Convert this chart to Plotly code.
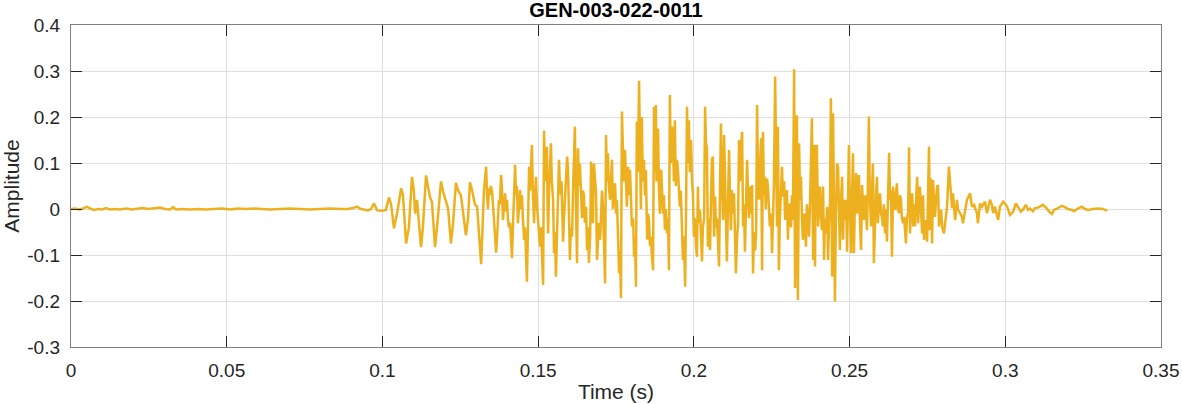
"""Waveform plot of one recording, MATLAB-like look."""

import plotly.graph_objects as go

LINE = "#EDB120"
TEXT = "#262626"
GRID = "#dfdfdf"
BOX = "#808080"
FONT = "Liberation Sans, Arial, sans-serif"

TITLE = "GEN-003-022-0011"

# (time in ms, amplitude), segment by segment
silence = [
    (0.0, 0.000), (1.3, 0.001), (2.6, -0.001), (3.9, 0.001), (5.1, 0.005), (6.1, 0.001),
    (7.4, -0.002), (8.7, 0.000), (10.0, -0.001), (11.2, 0.002), (12.5, -0.001), (14.1, 0.000),
    (15.7, -0.001), (17.7, 0.001), (19.6, -0.001), (21.5, 0.001), (23.1, 0.002), (24.7, 0.000),
    (26.7, 0.001), (28.6, 0.003), (30.2, 0.000), (31.8, -0.001), (32.8, 0.004), (33.7, -0.001),
    (35.6, 0.000), (38.2, -0.001), (40.8, 0.000), (43.3, -0.001), (45.9, 0.000), (48.5, 0.001),
    (51.1, -0.001), (53.6, 0.001), (56.2, 0.000), (58.8, 0.001), (61.3, 0.000), (63.9, -0.001),
    (67.1, 0.000), (70.3, 0.001), (73.5, 0.000), (76.7, -0.001), (80.0, 0.000), (83.2, 0.001),
    (86.4, 0.000), (88.9, 0.000), (90.6, 0.002), (91.8, 0.005), (93.1, 0.000), (94.1, -0.002),
    (95.4, -0.003), (96.3, 0.000), (97.3, 0.012), (98.3, -0.003), (99.9, -0.004), (101.1, -0.002),
    (102.1, 0.025), (102.8, 0.010),
]

onset = [
    (103.7, -0.042), (104.7, -0.010), (106.0, 0.045), (106.6, 0.030), (107.6, -0.075),
    (108.5, -0.040), (109.5, 0.070), (110.1, 0.040), (110.5, -0.010), (111.1, 0.020),
    (112.4, -0.083), (113.0, -0.040), (114.0, 0.073), (114.6, 0.050), (115.3, 0.025),
    (115.9, 0.015), (116.9, -0.083), (117.8, -0.020), (118.8, 0.060), (119.4, 0.040),
    (120.1, 0.025), (121.1, 0.000), (122.0, -0.075), (122.7, -0.030), (123.6, 0.057),
    (124.3, 0.040), (125.2, 0.030), (125.9, -0.010), (126.8, -0.057), (127.5, -0.020),
    (128.1, 0.058), (128.8, 0.040), (129.7, 0.010), (130.4, 0.005), (131.0, -0.060),
    (131.7, -0.120),
]

build = [
    (132.6, 0.040), (133.3, 0.092), (133.6, 0.030), (133.9, 0.000), (134.2, 0.045),
    (134.5, 0.030), (134.8, 0.050), (135.2, 0.038), (135.5, 0.010), (135.8, -0.030),
    (136.2, -0.060), (136.5, -0.095), (136.9, -0.050), (137.4, 0.020), (137.7, 0.010),
    (138.1, 0.074), (138.4, 0.040), (138.7, -0.024), (139.1, 0.010), (139.4, 0.034),
    (139.7, -0.005), (140.0, 0.020), (140.3, -0.020), (140.6, -0.040), (141.0, -0.030),
    (141.3, -0.080), (141.6, -0.107), (141.9, -0.040), (142.2, 0.040), (142.6, 0.096),
    (142.9, 0.030), (143.2, 0.050), (143.5, -0.031), (143.8, 0.010), (144.2, 0.041),
    (144.5, 0.000), (144.8, 0.030), (145.1, -0.020), (145.5, -0.067), (145.8, -0.040),
    (146.1, -0.120), (146.4, -0.158), (146.7, -0.050), (147.1, 0.092), (147.4, 0.040),
    (147.7, 0.110), (148.0, 0.139), (148.3, 0.040), (148.7, -0.031), (149.0, 0.030),
    (149.3, 0.070), (149.6, 0.010), (150.0, -0.020), (150.3, -0.050), (150.6, -0.082),
    (150.9, -0.040), (151.2, -0.120), (151.6, -0.165), (151.9, 0.170), (152.2, 0.060),
    (152.5, 0.120), (152.8, 0.135), (153.0, 0.020), (153.2, -0.053), (153.5, 0.040),
    (153.8, 0.100), (154.1, 0.143), (154.4, 0.060), (154.8, 0.020), (155.1, -0.096),
    (155.4, -0.050), (155.7, -0.147), (156.0, -0.060), (156.4, 0.040), (156.7, 0.107),
    (157.0, 0.050), (157.3, 0.030), (157.5, 0.060), (157.7, 0.005), (158.0, -0.071),
    (158.3, -0.020), (158.6, 0.020), (158.9, 0.060), (159.3, 0.114), (159.6, 0.085),
    (159.9, 0.010), (160.2, -0.111), (160.5, -0.040), (160.9, -0.060), (161.2, 0.040),
    (161.5, 0.100), (161.8, 0.179), (162.1, 0.020), (162.5, -0.118), (162.8, 0.132),
    (163.1, 0.050), (163.4, 0.099), (163.7, 0.030), (164.1, -0.020), (164.4, 0.040),
    (164.7, 0.030), (165.0, -0.030), (165.4, 0.005), (165.7, -0.089), (166.0, -0.040),
    (166.3, -0.117),
]

peak1 = [
    (166.7, -0.060), (167.0, 0.103), (167.3, 0.020), (167.6, -0.031), (167.9, 0.099),
    (168.2, 0.060), (168.6, 0.034), (168.9, -0.111), (169.2, -0.050), (169.5, -0.030),
    (169.9, -0.067), (170.2, -0.010), (170.5, 0.040), (170.8, 0.009), (171.1, -0.080),
    (171.5, -0.162), (171.8, 0.161), (172.1, 0.060), (172.4, 0.121), (172.7, 0.050),
    (173.1, 0.020), (173.4, 0.080), (173.7, 0.107), (174.0, 0.000), (174.3, 0.040),
    (174.7, 0.056), (175.0, -0.010), (175.3, 0.020), (175.6, -0.067), (176.0, -0.140),
    (176.3, -0.090), (176.6, -0.194), (176.9, 0.212), (177.2, 0.107), (177.5, 0.060),
    (177.9, 0.128), (178.2, 0.050), (178.5, 0.005), (178.9, 0.092), (179.2, 0.030),
    (179.5, 0.085), (179.8, 0.010), (180.1, -0.038), (180.5, -0.020), (180.8, -0.104),
    (181.1, -0.060), (181.4, -0.169), (181.7, 0.190), (182.0, 0.080), (182.4, 0.279),
    (182.7, 0.060), (183.0, 0.000), (183.3, 0.200), (183.6, 0.060), (184.0, 0.107),
    (184.3, 0.030), (184.6, 0.085), (184.8, 0.010), (185.0, -0.067), (185.3, -0.010),
    (185.6, -0.024), (185.9, -0.080), (186.2, -0.060), (186.5, -0.100), (186.9, -0.133),
    (187.2, 0.222), (187.5, 0.080), (187.8, 0.226), (188.0, 0.060), (188.2, 0.107),
    (188.5, 0.175), (188.8, 0.040), (189.1, -0.010), (189.5, 0.085), (189.8, 0.020),
    (190.1, -0.010), (190.4, 0.030), (190.7, -0.045), (191.0, 0.000), (191.4, -0.053),
    (191.7, -0.020), (192.0, -0.133), (192.3, 0.248), (192.6, 0.100), (193.0, 0.179),
    (193.3, 0.143), (193.6, 0.060), (193.9, 0.193), (194.2, 0.050), (194.6, 0.107),
    (194.9, 0.085), (195.2, 0.020), (195.5, 0.005), (195.8, 0.040), (196.2, -0.067),
    (196.5, -0.111), (196.8, -0.060), (197.2, -0.169), (197.5, 0.000), (197.8, 0.222),
    (198.1, 0.100), (198.4, 0.193), (198.7, 0.080), (199.1, 0.150), (199.4, 0.060),
    (199.7, 0.034), (200.0, -0.060), (200.3, -0.020), (200.7, -0.082), (201.0, -0.104),
    (201.3, 0.049), (201.6, -0.030), (202.0, -0.003), (202.3, -0.050),
]

peak2 = [
    (202.6, -0.114), (202.9, -0.040), (203.3, -0.020), (203.6, 0.222), (203.9, 0.143),
    (204.2, 0.132), (204.4, 0.030), (204.5, -0.082), (204.8, -0.020), (205.2, -0.089),
    (205.5, 0.020), (205.8, 0.107), (206.1, 0.114), (206.3, 0.020), (206.5, -0.060),
    (206.8, 0.027), (207.1, -0.040), (207.4, -0.020), (207.8, -0.100), (208.1, -0.125),
    (208.4, 0.050), (208.7, 0.186), (209.0, 0.060), (209.4, -0.024), (209.7, 0.161),
    (210.0, 0.050), (210.3, -0.031), (210.6, -0.114), (211.0, 0.020), (211.3, 0.128),
    (211.6, 0.030), (211.9, -0.046), (212.2, 0.041), (212.5, -0.010), (212.9, 0.034),
    (213.2, -0.060), (213.5, -0.140), (213.9, -0.060), (214.2, -0.031), (214.5, 0.150),
    (214.8, 0.060), (215.1, 0.128), (215.5, 0.168), (215.8, -0.038), (216.1, 0.010),
    (216.4, -0.093), (216.8, 0.020), (217.1, 0.107), (217.4, 0.034), (217.7, -0.020),
    (218.0, 0.049), (218.4, -0.010), (218.7, 0.052), (219.0, -0.140), (219.3, -0.050),
    (219.7, -0.090), (220.0, -0.053), (220.3, 0.226), (220.6, 0.060), (220.9, 0.020),
    (221.2, 0.090), (221.6, 0.154), (221.9, -0.133), (222.2, 0.168), (222.5, 0.030),
    (222.8, 0.070), (223.1, 0.000), (223.5, 0.066), (223.8, 0.048), (224.1, -0.020),
    (224.4, -0.038), (224.8, -0.010), (225.1, -0.096), (225.4, -0.024), (225.7, 0.050),
    (226.1, 0.288), (226.4, 0.060), (226.7, -0.038), (227.0, 0.179), (227.3, -0.133),
    (227.6, -0.020), (228.0, 0.030), (228.3, 0.092), (228.6, 0.027), (229.0, 0.060),
    (229.3, -0.024), (229.6, 0.020), (229.9, 0.041), (230.2, -0.067), (230.5, 0.000),
    (230.9, 0.012), (231.2, -0.040), (231.5, 0.030), (231.8, -0.024), (232.2, 0.304),
    (232.5, -0.172), (232.8, 0.050), (233.1, 0.204), (233.4, -0.198), (233.8, 0.143),
    (234.1, 0.020), (234.4, 0.070), (234.7, -0.020), (235.0, -0.067), (235.4, -0.010),
    (235.7, -0.040), (236.0, -0.082), (236.3, 0.010), (236.7, -0.031), (237.0, -0.060),
    (237.4, 0.040),
]

decay1 = [
    (237.9, 0.197), (238.3, -0.111), (238.6, 0.139), (238.9, -0.125), (239.2, 0.135),
    (239.5, 0.139), (239.9, -0.038), (240.2, 0.010), (240.5, 0.049), (240.8, -0.010),
    (241.1, -0.046), (241.5, 0.049), (241.8, -0.111), (242.1, -0.020), (242.4, -0.053),
    (242.8, 0.005), (243.1, -0.111), (243.4, -0.030), (243.7, 0.005), (244.0, 0.241),
    (244.4, -0.147), (244.7, 0.208), (245.0, 0.034), (245.3, -0.201), (245.6, -0.020),
    (246.0, 0.099), (246.3, 0.092), (246.6, 0.000), (246.9, -0.089), (247.2, 0.010),
    (247.6, 0.070), (247.9, -0.067), (248.2, 0.020), (248.5, -0.024), (248.9, 0.020),
    (249.2, -0.093), (249.5, 0.020), (249.8, 0.139), (250.1, 0.000), (250.5, -0.096),
    (250.8, 0.030), (251.1, 0.121), (251.4, -0.096), (251.7, 0.020), (252.1, 0.078),
    (252.4, -0.010), (252.7, 0.040), (253.0, 0.074), (253.3, -0.020), (253.7, -0.089),
    (254.0, 0.052), (254.3, -0.010), (254.6, -0.024), (255.0, 0.030), (255.3, -0.017),
    (255.6, -0.046), (255.9, 0.060), (256.2, 0.201), (256.5, 0.030), (256.9, -0.038),
    (257.2, 0.040), (257.5, 0.099), (257.8, -0.118), (258.1, -0.020), (258.5, 0.034),
    (258.8, 0.070), (259.1, -0.031), (259.4, 0.010), (259.8, 0.034), (260.1, -0.010),
    (260.4, -0.017), (260.7, -0.038), (261.0, 0.010), (261.4, -0.053), (261.7, 0.000),
    (262.0, -0.071), (262.3, 0.020), (262.7, 0.122), (263.0, 0.020), (263.3, 0.040),
    (263.6, -0.104), (264.0, 0.049), (264.3, 0.010), (264.6, -0.002), (264.9, 0.030),
    (265.2, 0.056), (265.5, 0.000), (265.9, -0.009), (266.2, 0.030), (266.5, 0.020),
    (266.8, -0.020), (267.2, -0.031), (267.5, -0.017), (267.8, -0.050), (268.1, -0.075),
    (268.4, -0.020), (268.8, -0.009), (269.1, 0.134), (269.4, -0.053), (269.7, 0.010),
    (270.1, 0.034), (270.4, -0.038), (270.7, 0.010), (271.0, -0.038), (271.4, 0.020),
    (271.7, 0.070), (272.0, -0.031), (272.3, 0.010), (272.6, 0.049),
]

decay2 = [
    (273.3, -0.053), (273.6, 0.030), (273.9, -0.067), (274.2, -0.024), (274.9, -0.071),
    (275.2, 0.020), (275.5, 0.136), (275.8, -0.046), (276.1, 0.067), (276.5, -0.075),
    (276.8, 0.063), (277.4, -0.017), (278.1, 0.049), (278.4, 0.052), (278.7, -0.038),
    (279.4, -0.002), (279.7, -0.038), (280.3, -0.053), (281.0, -0.017), (281.3, 0.005),
    (281.9, 0.092), (282.6, 0.034), (282.9, 0.002), (283.2, 0.034), (283.9, -0.024),
    (284.5, 0.020), (284.8, -0.002), (285.5, -0.009), (286.1, -0.017), (286.4, -0.031),
    (287.1, -0.006), (287.7, 0.020), (288.7, 0.034), (289.3, 0.005), (290.0, 0.009),
    (290.9, -0.009), (291.2, -0.031), (291.9, 0.012), (292.5, 0.005), (293.5, 0.016),
    (294.1, -0.009), (295.1, 0.020), (295.7, 0.009), (296.1, -0.009), (296.7, 0.005),
    (297.7, -0.024), (298.3, 0.005), (299.3, 0.016), (299.9, 0.012), (300.6, 0.005),
    (301.5, -0.013), (302.5, -0.006), (303.4, 0.012), (304.1, 0.005), (305.0, -0.006),
    (305.7, -0.001), (306.6, 0.009), (307.3, -0.002),
]

tail = [
    (307.9, 0.001), (308.9, -0.005), (309.5, 0.002), (310.5, 0.003), (312.1, 0.009),
    (313.4, 0.001), (314.0, -0.005), (315.0, -0.011), (315.6, -0.002), (316.6, 0.001),
    (318.2, 0.007), (319.2, 0.004), (320.1, 0.000), (321.4, -0.002), (322.1, -0.005),
    (323.3, 0.001), (324.6, 0.005), (325.6, 0.000), (326.6, -0.002), (328.2, 0.000),
    (329.8, 0.001), (331.4, 0.000), (332.3, -0.003), (332.7, -0.001),
]

x_ticks = [0, 0.05, 0.1, 0.15, 0.2, 0.25, 0.3, 0.35]
x_labels = ["0", "0.05", "0.1", "0.15", "0.2", "0.25", "0.3", "0.35"]
y_ticks = [-0.3, -0.2, -0.1, 0, 0.1, 0.2, 0.3, 0.4]
y_labels = ["-0.3", "-0.2", "-0.1", "0", "0.1", "0.2", "0.3", "0.4"]

points = silence + onset + build + peak1 + peak2 + decay1 + decay2 + tail
time_s = [t / 1000 for t, _ in points]
amplitude = [a for _, a in points]

fig = go.Figure(
    go.Scatter(
        x=time_s,
        y=amplitude,
        mode="lines",
        line={"color": LINE, "width": 2.5},
        hoverinfo="skip",
        showlegend=False,
    )
)

axis_style = dict(
    showline=True,
    linecolor=BOX,
    linewidth=1.3,
    mirror="ticks",
    ticks="inside",
    ticklen=11,
    tickwidth=1,
    tickcolor=TEXT,
    showgrid=True,
    gridcolor=GRID,
    gridwidth=1,
    zeroline=False,
    automargin=False,
    tickfont={"family": FONT, "size": 19, "color": TEXT},
)

fig.update_xaxes(
    range=[0, 0.35],
    tickvals=x_ticks,
    ticktext=x_labels,
    title={"text": "Time (s)", "font": {"family": FONT, "size": 21, "color": TEXT}, "standoff": 4},
    ticklabelstandoff=6,
    **axis_style,
)
fig.update_yaxes(
    range=[-0.3, 0.4],
    tickvals=y_ticks,
    ticktext=y_labels,
    title={"text": "Amplitude", "font": {"family": FONT, "size": 21, "color": TEXT}, "standoff": 8},
    ticklabelstandoff=6,
    **axis_style,
)

fig.update_layout(
    width=1182,
    height=404,
    paper_bgcolor="white",
    plot_bgcolor="white",
    margin={"l": 71, "r": 21, "t": 25, "b": 57},
    title={
        "text": TITLE,
        "x": 0.5,
        "xref": "paper",
        "xanchor": "center",
        "y": 0.975,
        "yref": "container",
        "yanchor": "middle",
        "font": {"family": FONT, "size": 20, "color": "black", "weight": "bold"},
    },
)

# drop the default page margin so the figure sits at the window's top-left
fig.write_html(
    "out.html",
    config={"displayModeBar": False},
    post_script="document.body.style.margin = '0';",
)
